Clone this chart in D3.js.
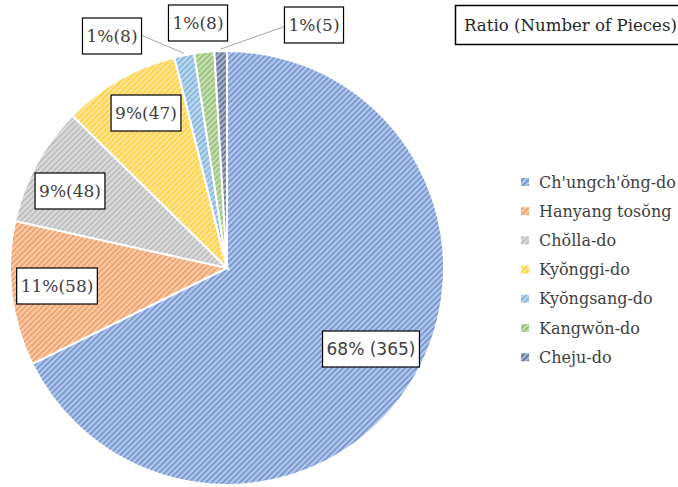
<!DOCTYPE html>
<html><head><meta charset="utf-8">
<script src="https://cdn.jsdelivr.net/npm/d3@7"></script>
<style>body{margin:0;background:#fff}svg{display:block}</style>
</head><body>
<script>
const categories = ["Ch'ungch'ŏng-do","Hanyang tosŏng","Chŏlla-do","Kyŏnggi-do","Kyŏngsang-do","Kangwŏn-do","Cheju-do"];
const values = [365, 58, 48, 47, 8, 8, 5];
const labels = ["68% (365)","11%(58)","9%(48)","9%(47)","1%(8)","1%(8)","1%(5)"];
const colors = ["#4472C4","#ED7D31","#A5A5A5","#FFC000","#5B9BD5","#70AD47","#264478"];
const title = "Ratio (Number of Pieces)";

const W=678,H=487;
const svg=d3.select("body").append("svg").attr("width",W).attr("height",H);
const defs=svg.append("defs");
colors.forEach((c,i)=>{
  const p=defs.append("pattern").attr("id","pat"+i).attr("patternUnits","userSpaceOnUse")
    .attr("width",4).attr("height",4).attr("patternTransform","rotate(45)");
  p.append("rect").attr("width",4).attr("height",4).attr("fill",d3.interpolateRgb(c,"#fff")(0.6));
  p.append("rect").attr("width",1.5).attr("height",4).attr("fill",d3.interpolateRgb(c,"#fff")(0.2));
});
const cx=227,cy=268,R=217;
const pie=d3.pie().sort(null).value(d=>d)(values);
const arc=d3.arc().innerRadius(0).outerRadius(R);
const g=svg.append("g").attr("transform",`translate(${cx},${cy})`);
g.selectAll("path").data(pie).join("path").attr("d",arc)
  .attr("fill",(d,i)=>`url(#pat${i})`).attr("stroke","#fff").attr("stroke-width",2);

const labelPos=[[371,349],[57,286],[70,191],[146,113],[112,36],[198,23],[314,25]];
const lf=["DejaVu Sans","DejaVu Serif","DejaVu Serif","DejaVu Serif","DejaVu Serif","DejaVu Serif","DejaVu Serif"];
[[4,141,35],[6,286,26]].forEach(([i,x,y])=>{
  const a=(pie[i].startAngle+pie[i].endAngle)/2;
  const ex=cx+Math.sin(a)*(R+2), ey=cy-Math.cos(a)*(R+2);
  svg.append("line").attr("x1",x).attr("y1",y).attr("x2",ex).attr("y2",ey)
    .attr("stroke","#a6a6a6").attr("stroke-width",1);
});
labels.forEach((t,i)=>{
  const [x,y]=labelPos[i];
  const lg=svg.append("g");
  const tx=lg.append("text").attr("x",x).attr("y",y).attr("text-anchor","middle")
    .attr("dominant-baseline","central").attr("font-family",lf[i]).attr("font-size",17)
    .attr("fill","#404040").text(t);
  const bb=tx.node().getBBox();
  lg.insert("rect","text").attr("x",bb.x-4).attr("y",y-18).attr("width",bb.width+8).attr("height",36)
    .attr("fill","#fff").attr("stroke","#000").attr("stroke-width",1.2);
});
svg.append("rect").attr("x",455.5).attr("y",5.5).attr("width",230).attr("height",39)
  .attr("fill","#fff").attr("stroke","#000").attr("stroke-width",1.5);
svg.append("text").attr("x",464).attr("y",31).attr("font-family","DejaVu Serif").attr("font-size",16.6)
  .attr("fill","#262626").text(title);
const leg=svg.append("g");
categories.forEach((c,i)=>{
  const y=182+i*29.2;
  leg.append("rect").attr("x",521).attr("y",y-4).attr("width",8).attr("height",8).attr("fill",`url(#pat${i})`);
  leg.append("text").attr("x",539).attr("y",y).attr("dominant-baseline","central")
    .attr("font-family","DejaVu Serif").attr("font-size",16).attr("fill","#404040").text(c);
});
</script>
</body></html>
